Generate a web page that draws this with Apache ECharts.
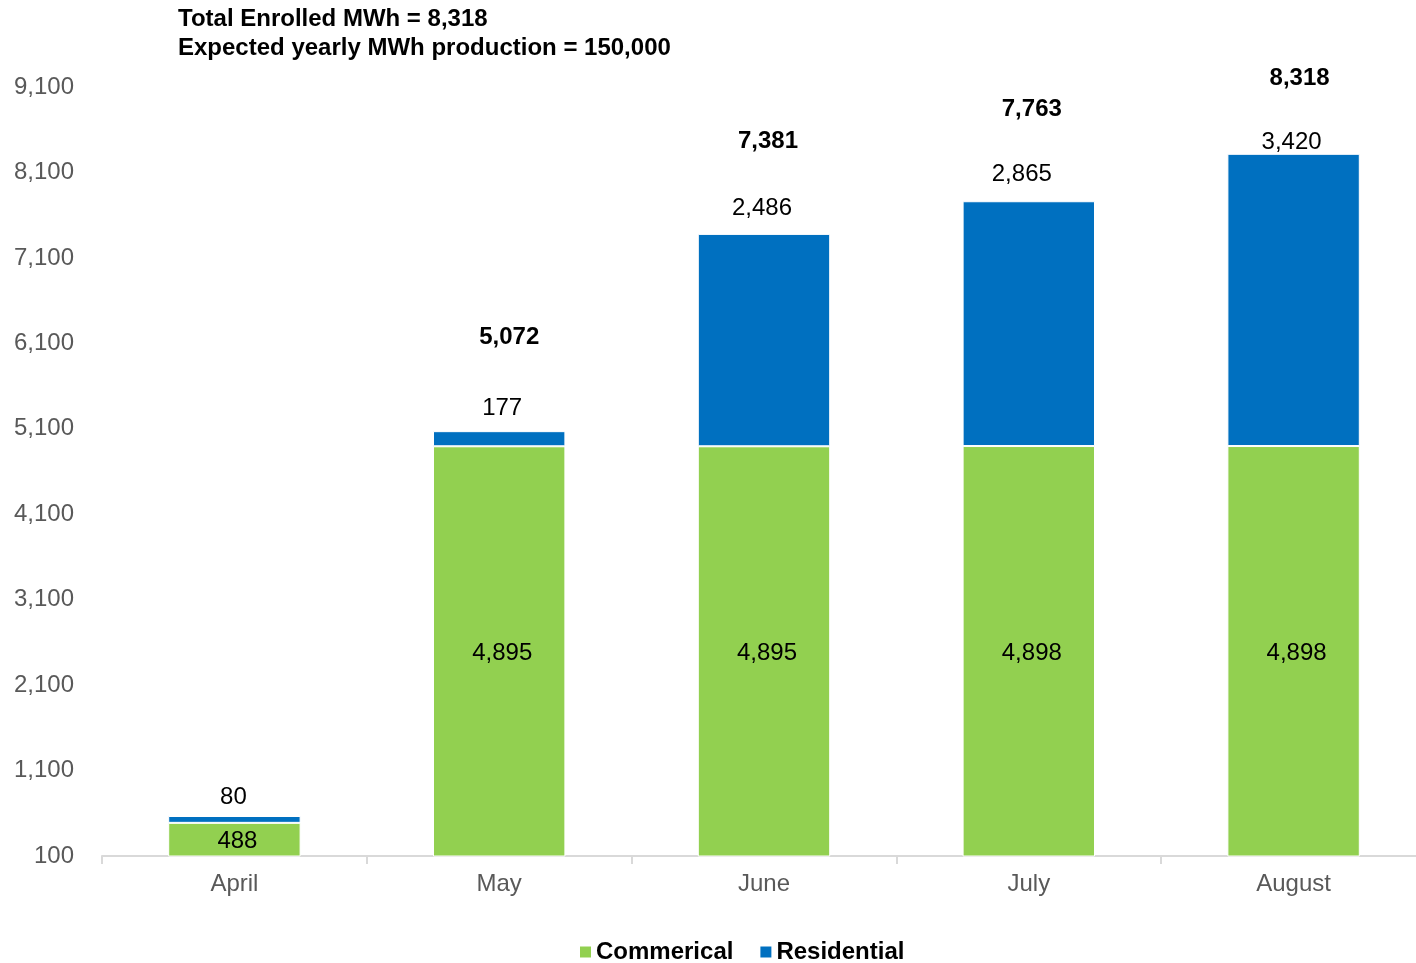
<!DOCTYPE html>
<html><head><meta charset="utf-8">
<script src="https://cdn.jsdelivr.net/npm/echarts@6/dist/echarts.min.js"></script>
<style>html,body{margin:0;padding:0;background:#fff}#c{width:1416px;height:963px}</style>
</head><body><div id="c"></div>
<script>
const categories = ['April', 'May', 'June', 'July', 'August'];
const commercial = [488, 4895, 4895, 4898, 4898];
const residential = [80, 177, 2486, 2865, 3420];
const totals = [null, 5072, 7381, 7763, 8318];
const titleLines = ['Total Enrolled MWh = 8,318', 'Expected yearly MWh production = 150,000'];

const fmt = v => Number(v).toLocaleString('en-US');
const font = 'Liberation Sans, Arial, sans-serif';
const FS = 24;
const totalDist = [81, 81, 80, 79, 62];
const totalDx = [5, 10, 4, 3, 6];
const resDist = [7, 11, 14, 15, -1];
const resDx = [-1, 3, -2, -7, -2];

const chart = echarts.init(document.getElementById('c'));
chart.setOption({
  animation: false,
  textStyle: { fontFamily: font },
  title: {
    text: titleLines.join('\n'), left: 173, top: 0,
    textStyle: { fontFamily: font, fontSize: FS, fontWeight: 'bold', color: '#000', lineHeight: 29 }
  },
  legend: {
    bottom: -6, left: 573, itemWidth: 13, itemHeight: 13, itemGap: 25,
    icon: 'rect', data: ['Commerical', 'Residential'],
    textStyle: { fontFamily: font, fontSize: FS, fontWeight: 'bold', color: '#000', padding: [0, 0, 0, -1] }
  },
  grid: { left: 102, width: 1324, top: 87, bottom: 107, containLabel: false, outerBoundsMode: 'none' },
  xAxis: {
    type: 'category', data: categories,
    axisLine: { lineStyle: { color: '#d9d9d9', width: 2 } },
    axisTick: { show: true, length: 8, lineStyle: { color: '#d9d9d9', width: 2 } },
    axisLabel: { fontSize: FS, color: '#595959', margin: 16, fontFamily: font }
  },
  yAxis: {
    type: 'value', min: 100, max: 9100, interval: 1000,
    splitLine: { show: false }, axisLine: { show: false }, axisTick: { show: false },
    axisLabel: { fontSize: FS, color: '#595959', margin: 28, fontFamily: font, formatter: v => fmt(v) }
  },
  series: [
    {
      name: 'Commerical', type: 'bar', stack: 's', barWidth: '50%', data: commercial,
      itemStyle: { color: '#92D050', borderColor: '#ffffff', borderWidth: 1 },
      label: { show: true, position: 'inside', offset: [3, 2], fontSize: FS, color: '#000', fontFamily: font, formatter: p => fmt(p.value) }
    },
    {
      name: 'Residential', type: 'bar', stack: 's', barWidth: '50%',
      data: residential.map((v, i) => ({ value: v, label: { distance: resDist[i], offset: [resDx[i], 0] } })),
      itemStyle: { color: '#0070C0', borderColor: '#ffffff', borderWidth: 1 },
      label: { show: true, position: 'top', fontSize: FS, color: '#000', fontFamily: font, formatter: p => fmt(p.value) }
    },
    {
      name: 'Total', type: 'scatter', data: totals.map((v, i) => ({
        value: v, label: { distance: totalDist[i], offset: [totalDx[i], 0] }
      })),
      symbol: 'circle', symbolSize: 2, itemStyle: { color: 'rgba(255,255,255,0)' },
      silent: true, z: 10, emphasis: { disabled: true },
      label: { show: true, position: 'top', opacity: 1, fontSize: FS, fontWeight: 'bold', color: '#000000', textBorderWidth: 0, fontFamily: font, formatter: p => p.value == null ? '' : fmt(p.value) }
    }
  ]
});
</script></body></html>
